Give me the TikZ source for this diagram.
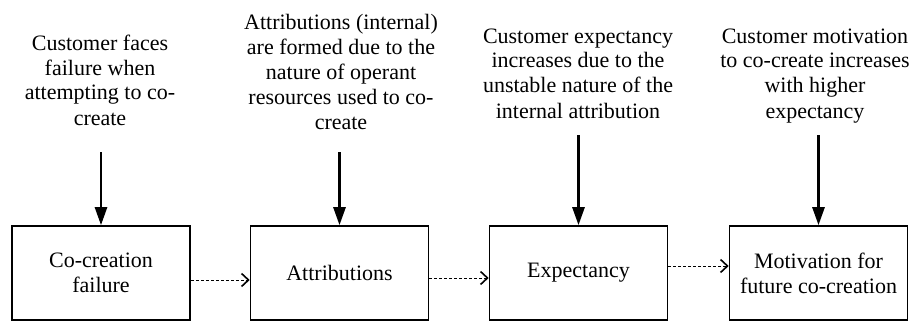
\documentclass[tikz,border=0pt]{standalone}
\usepackage{fontspec}
\setmainfont{Liberation Serif}
\usetikzlibrary{arrows.meta}

\begin{document}
\begin{tikzpicture}
      [x=0.5pt,y=0.5pt,line join=miter,
     %boxes of the four stages
     stage/.style={draw,line width=0.8pt,minimum width=89pt,minimum height=47pt,
       align=center,inner sep=2pt,font=\fontsize{11pt}{12.5pt}\selectfont},
     %texts above the boxes (anchored at the last line)
     remark/.style={align=center,anchor=base,inner sep=0pt,
       font=\fontsize{11pt}{12.5pt}\selectfont},
     cause/.style={-{Triangle[length=9pt,width=6pt]},line width=1.3pt},
     flow/.style={-{Straight Barb[length=3.5pt,width=6.5pt,line width=0.8pt]},
       line width=0.5pt,dash pattern=on 1.5pt off 1pt}]

%frame
  \useasboundingbox (0,0) rectangle (916,322);

%the stages
  \node[stage] (failure) at (101,49) {Co-creation\\failure};
  \node[stage] (attrib) at (339.5,49) {Attributions};
  \node[stage] (expect) at (578.5,49) {Expectancy};
  \node[stage] (motiv) at (818.5,49) {Motivation for\\future co-creation};

%the texts
  \node[remark] (faces) at (100,197)
    {Customer faces\\failure when\\attempting to co-\\create};
  \node[remark] (formed) at (341,192)
    {Attributions (internal)\\are formed due to the\\nature of operant\\resources used to co-\\create};
  \node[remark] (increase) at (578,204)
    {Customer expectancy\\increases due to the\\unstable nature of the\\internal attribution};
  \node[remark] (higher) at (815,204)
    {Customer motivation\\to co-create increases\\with higher\\expectancy};

%tops of the arrows
  \coordinate (top1) at (101,170);
  \coordinate (top2) at (339.5,170);
  \coordinate (top3) at (578.5,187);
  \coordinate (top4) at (818.5,187);

  \draw[cause] (top1) -- (failure.north);
  \draw[cause] (top2) -- (attrib.north);
  \draw[cause] (top3) -- (expect.north);
  \draw[cause] (top4) -- (motiv.north);

%dashed arrows between the stages
  \draw[flow] ([yshift=-3.5pt]failure.east) -- ([yshift=-3.5pt]attrib.west);
  \draw[flow] ([yshift=-2.5pt]attrib.east) -- ([yshift=-2.5pt]expect.west);
  \draw[flow] ([yshift=3.5pt]expect.east) -- ([yshift=3.5pt]motiv.west);
\end{tikzpicture}
\end{document}
